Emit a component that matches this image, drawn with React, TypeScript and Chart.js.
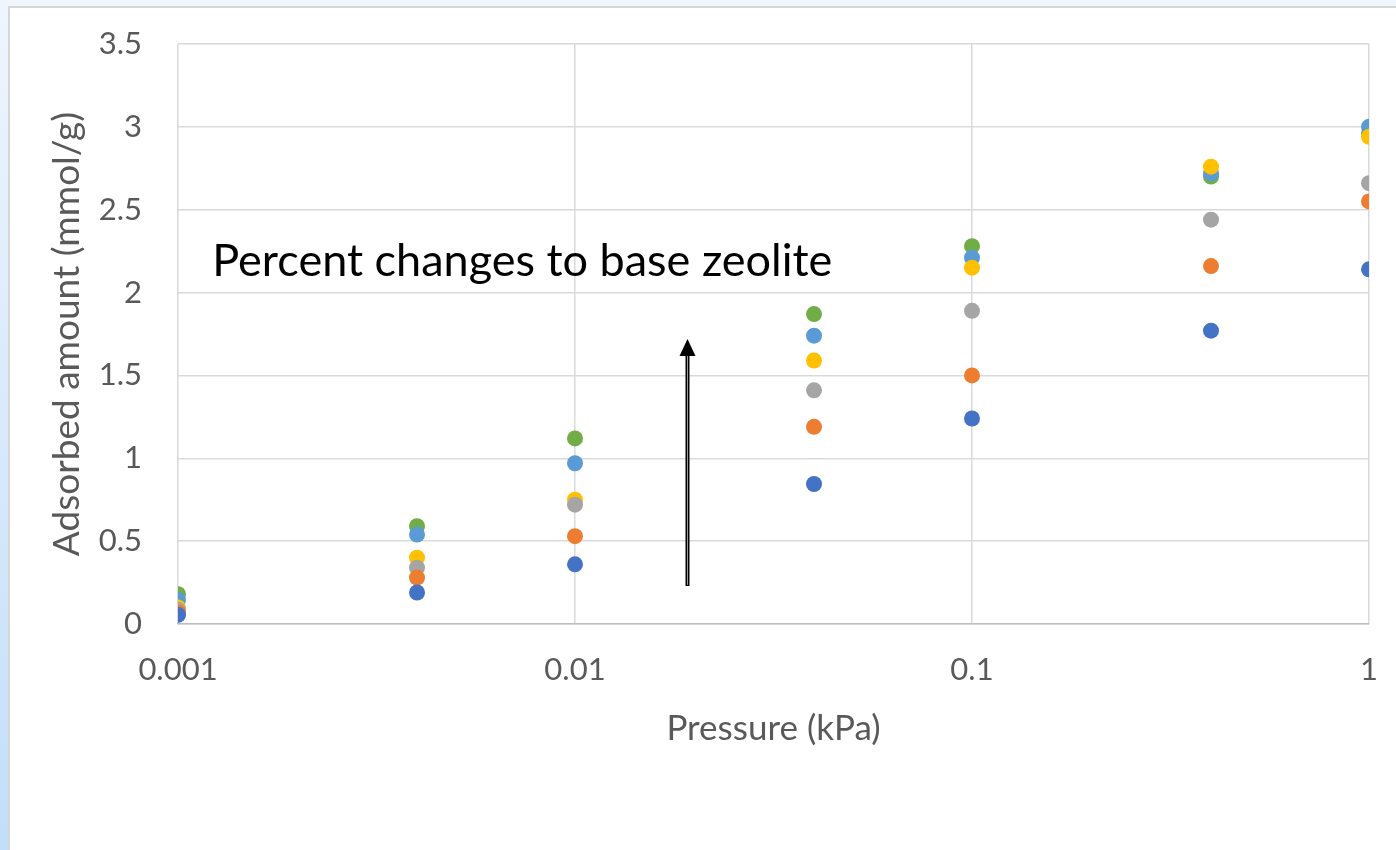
import React, { useEffect, useRef } from "react";
import { Chart, registerables } from "chart.js";

Chart.register(...registerables);

const pressures = [0.001, 0.004, 0.01, 0.04, 0.1, 0.4, 1];
const seriesBlue = [0.055, 0.19, 0.36, 0.845, 1.24, 1.77, 2.14];
const seriesOrange = [0.07, 0.28, 0.53, 1.19, 1.5, 2.16, 2.55];
const seriesGray = [0.085, 0.34, 0.72, 1.41, 1.89, 2.44, 2.66];
const seriesGold = [0.1, 0.4, 0.75, 1.59, 2.15, 2.76, 2.94];
const seriesLightBlue = [0.145, 0.54, 0.97, 1.74, 2.21, 2.72, 3.0];
const seriesGreen = [0.18, 0.59, 1.12, 1.87, 2.28, 2.7, 2.96];
const seriesColors = ["#4472C4", "#ED7D31", "#A5A5A5", "#FFC000", "#5B9BD5", "#70AD47"];
const seriesValues = [seriesBlue, seriesOrange, seriesGray, seriesGold, seriesLightBlue, seriesGreen];
const xTicks = [0.001, 0.01, 0.1, 1];
const xTickLabels = ["0.001", "0.01", "0.1", "1"];

const annotationText = "Percent changes to base zeolite";
const annotationAt = { x: 0.00122, y: 2.19 };
const arrowX = 0.0192;
const arrowFromY = 0.23;
const arrowToY = 1.72;

const FONT = "Lato, 'Open Sans', sans-serif";

const annotationPlugin = {
  id: "annot",
  afterDatasetsDraw(chart: any) {
    const { ctx, scales } = chart;
    const xs = scales.x;
    const ys = scales.y;
    ctx.save();
    ctx.font = `45px ${FONT}`;
    ctx.fillStyle = "#000000";
    ctx.textAlign = "left";
    ctx.textBaseline = "middle";
    ctx.fillText(annotationText, xs.getPixelForValue(annotationAt.x), ys.getPixelForValue(annotationAt.y));
    const ax = Math.round(xs.getPixelForValue(arrowX)) + 0.5;
    const y0 = ys.getPixelForValue(arrowFromY);
    const y1 = ys.getPixelForValue(arrowToY);
    const headH = 17;
    ctx.strokeStyle = "#000000";
    ctx.lineWidth = 4;
    ctx.beginPath();
    ctx.moveTo(ax, y0);
    ctx.lineTo(ax, y1 + headH - 1);
    ctx.stroke();
    ctx.strokeStyle = "#9a9a9a";
    ctx.lineWidth = 1;
    ctx.beginPath();
    ctx.moveTo(ax, y0 - 1);
    ctx.lineTo(ax, y1 + headH);
    ctx.stroke();
    ctx.fillStyle = "#000000";
    ctx.beginPath();
    ctx.moveTo(ax, y1);
    ctx.lineTo(ax - 8, y1 + headH);
    ctx.lineTo(ax + 8, y1 + headH);
    ctx.closePath();
    ctx.fill();
    ctx.restore();
  },
};

export default function App() {
  const canvasRef = useRef<HTMLCanvasElement | null>(null);

  useEffect(() => {
    document.body.style.margin = "0";
    const canvas = canvasRef.current;
    if (!canvas) return;
    const datasets = seriesValues.map((vals, i) => ({
      label: `Series ${i + 1}`,
      data: pressures.map((p, j) => ({ x: p, y: vals[j] })),
      backgroundColor: seriesColors[i],
      borderColor: seriesColors[i],
      borderWidth: 0,
      pointRadius: 8,
      pointHoverRadius: 8,
      showLine: false,
    }));
    const chart = new Chart(canvas, {
      type: "scatter",
      data: { datasets },
      plugins: [annotationPlugin],
      options: {
        responsive: false,
        animation: false,
        events: [],
        layout: { padding: { left: 0, right: 27, top: 44, bottom: 0 } },
        plugins: {
          legend: { display: false },
          tooltip: { enabled: false },
        },
        scales: {
          x: {
            type: "logarithmic",
            min: 0.001,
            max: 1,
            afterBuildTicks: (scale: any) => {
              scale.ticks = xTicks.map((v) => ({ value: v }));
            },
            afterFit: (scale: any) => {
              scale.height = 226;
              scale.paddingLeft = 0;
              scale.paddingRight = 0;
            },
            ticks: {
              autoSkip: false,
              maxRotation: 0,
              padding: 27,
              color: "#595959",
              font: { family: FONT, size: 31 },
              callback: (v: any) => {
                const idx = xTicks.indexOf(Number(v));
                return idx >= 0 ? xTickLabels[idx] : "";
              },
            },
            grid: { color: "#D9D9D9", lineWidth: 1.5, drawTicks: false },
            border: { display: true, color: "#BFBFBF", width: 1.5 },
            title: {
              display: true,
              text: "Pressure (kPa)",
              color: "#595959",
              font: { family: FONT, size: 35 },
              padding: { top: 0, bottom: 100 },
            },
          },
          y: {
            min: 0,
            max: 3.5,
            afterFit: (scale: any) => {
              scale.width = 178;
              scale.paddingTop = 0;
              scale.paddingBottom = 0;
            },
            ticks: {
              stepSize: 0.5,
              padding: 36,
              color: "#595959",
              font: { family: FONT, size: 31 },
              callback: (v: any) => String(Number(v)),
            },
            grid: { color: "#D9D9D9", lineWidth: 1.5, drawTicks: false },
            border: { display: false },
            title: {
              display: true,
              text: "Adsorbed amount (mmol/g)",
              color: "#595959",
              font: { family: FONT, size: 37 },
              padding: { top: 45, bottom: 0 },
            },
          },
        },
      },
    });
    return () => chart.destroy();
  }, []);

  return (
    <div style={{ position: "relative", width: 1396, height: 850, overflow: "hidden", background: "#F1F6FD" }}>
      <div
        style={{
          position: "absolute",
          left: 0,
          top: 0,
          width: 8,
          height: 850,
          background: "linear-gradient(#EEF5FE, #C3DEFA)",
        }}
      />
      <div
        style={{
          position: "absolute",
          left: 8,
          top: 6,
          width: 1388,
          height: 844,
          background: "#FFFFFF",
          borderLeft: "2px solid #D6D6D6",
          borderTop: "2px solid #D6D6D6",
          boxSizing: "border-box",
        }}
      />
      <canvas
        ref={canvasRef}
        width={1396}
        height={850}
        style={{ position: "absolute", left: 0, top: 0, width: 1396, height: 850 }}
      />
    </div>
  );
}
